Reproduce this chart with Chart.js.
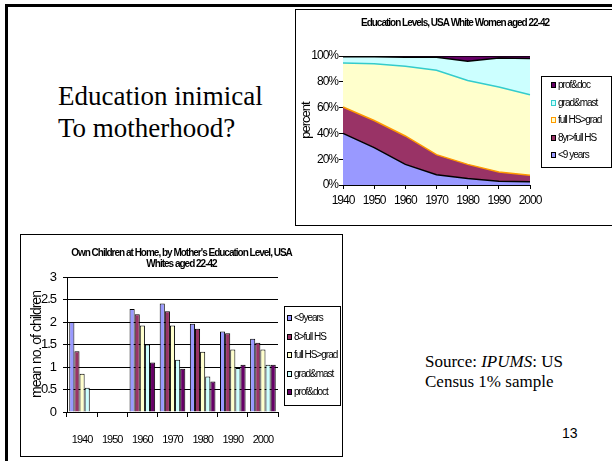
<!DOCTYPE html>
<html>
<head>
<meta charset="utf-8">
<script src="https://cdn.jsdelivr.net/npm/chart.js@4.4.1/dist/chart.umd.min.js"></script>
<style>
  html, body { margin: 0; padding: 0; background: #fff; }
  body { width: 612px; height: 461px; position: relative; overflow: hidden; }
  .slide { position: absolute; left: 5px; top: 4px; width: 700px; height: 600px;
           border-left: 3px solid #000; border-top: 3px solid #000; }
  .box { position: absolute; background: #fff; border: 1px solid #000; }
  #topBox { left: 295px; top: 9px; width: 318px; height: 215px; }
  #bottomBox { left: 20px; top: 234px; width: 321px; height: 221px; }
  canvas { display: block; }
  .heading { position: absolute; left: 58px; top: 80px; font-family: 'Liberation Serif', 'Times New Roman', serif;
             font-size: 27px; line-height: 32px; white-space: nowrap; }
  .source { position: absolute; left: 425px; top: 352px; font-family: 'Liberation Serif', 'Times New Roman', serif;
            font-size: 17px; line-height: 20px; white-space: nowrap; }
  .pageno { position: absolute; left: 562px; top: 425px; font-family: 'Liberation Sans', Arial, sans-serif; font-size: 14px; }
</style>
</head>
<body>
<div class="slide"></div>
<div class="heading">Education inimical<br>To motherhood?</div>
<div class="box" id="topBox"><canvas id="levelsChart" width="318" height="215"></canvas></div>
<div class="box" id="bottomBox"><canvas id="kidsChart" width="321" height="221"></canvas></div>
<div class="source">Source: <i>IPUMS</i>: US<br>Census 1% sample</div>
<div class="pageno">13</div>

<script>
// census years (shared by both charts)
const YEARS = ['1940', '1950', '1960', '1970', '1980', '1990', '2000'];

// top chart: share of white women 22-42 by education level (%)
const LEVEL_LABELS = ['<9 years', '8yr>full HS', 'full HS>grad', 'grad&mast', 'prof&doc'];
const SHARE_LT9 = [40, 29, 16, 8, 5, 3, 2.6];
const SHARE_8YR_HS = [20.5, 21, 22, 15.5, 11, 7, 5];
const SHARE_HS_GRAD = [34, 44, 54, 65.5, 65, 66, 62.4];
const SHARE_GRAD_MAST = [5, 5.5, 7, 10, 15, 22.5, 28];
const SHARE_PROF_DOC = [0.5, 0.5, 1, 1, 4, 1.5, 2];
const PERCENT_TICKS = [0, 20, 40, 60, 80, 100];

// bottom chart: mean number of own children at home
const KIDS_LABELS = ['<9years', '8>full HS', 'full HS>grad', 'grad&mast', 'prof&doct'];
const KIDS_LT9 = [2.0, null, 2.29, 2.41, 1.96, 1.79, 1.63];
const KIDS_8_HS = [1.35, null, 2.17, 2.24, 1.85, 1.75, 1.54];
const KIDS_HS_GRAD = [0.85, null, 1.92, 1.92, 1.34, 1.39, 1.39];
const KIDS_GRAD_MAST = [0.54, null, 1.5, 1.16, 0.79, 0.98, 1.05];
const KIDS_PROF_DOCT = [null, null, 1.1, 0.96, 0.68, 1.05, 1.05];

const FILLS = ['#9999FF', '#993366', '#FFFFCC', '#CCFFFF', '#660066'];
const SANS = "'Liberation Sans', Arial, sans-serif";

Chart.defaults.font.family = SANS;
Chart.defaults.color = '#000';

// the Excel charts were squeezed sideways, so tighten the lettering
const tightText = {
  id: 'tightText',
  beforeUpdate(chart) { chart.ctx.letterSpacing = '-1px'; },
  beforeDraw(chart) { chart.ctx.letterSpacing = '-1px'; }
};

// legend in a framed box, like the Excel one
const boxLegend = {
  id: 'boxLegend',
  afterDraw(chart, args, opts) {
    const ctx = chart.ctx;
    ctx.save();
    ctx.fillStyle = '#fff';
    ctx.strokeStyle = '#000';
    ctx.lineWidth = 1;
    ctx.fillRect(opts.left, opts.top, opts.width, opts.height);
    ctx.strokeRect(opts.left + 0.5, opts.top + 0.5, opts.width, opts.height);

    let items = chart.data.datasets.map((ds, i) => ({
      label: ds.label,
      fill: ds.backgroundColor,
      edge: opts.edges ? opts.edges[i] : '#000'
    }));
    if (opts.reverse) items.reverse();

    ctx.font = opts.fontSize + 'px ' + SANS;
    ctx.textBaseline = 'middle';
    items.forEach((it, k) => {
      const cy = Math.round(opts.firstY + k * opts.rowGap);
      ctx.fillStyle = it.fill;
      ctx.fillRect(opts.swatchX, cy - 3, 5, 6);
      ctx.strokeStyle = it.edge;
      ctx.strokeRect(opts.swatchX + 0.5, cy - 2.5, 4, 5);
      ctx.fillStyle = '#000';
      ctx.fillText(it.label, opts.textX, cy);
    });
    ctx.restore();
  }
};

// empty right-hand axis that just reserves room for the legend box
function spacerAxis(width) {
  return {
    type: 'linear',
    position: 'right',
    grid: { display: false },
    border: { display: false },
    ticks: { display: false },
    afterFit: (s) => { s.width = width; }
  };
}

// --- top chart: stacked area of education levels ---
const shareSeries = [SHARE_LT9, SHARE_8YR_HS, SHARE_HS_GRAD, SHARE_GRAD_MAST, SHARE_PROF_DOC];
const topLines = ['#000', '#FF9900', '#33CCCC', '#000', '#000'];

new Chart(document.getElementById('levelsChart'), {
  type: 'line',
  data: {
    labels: YEARS,
    datasets: shareSeries.map((vals, i) => ({
      label: LEVEL_LABELS[i],
      data: vals,
      backgroundColor: FILLS[i],
      borderColor: topLines[i],
      borderWidth: 1.5,
      fill: i === 0 ? 'origin' : '-1',
      pointRadius: 0,
      tension: 0
    }))
  },
  options: {
    responsive: false,
    animation: false,
    devicePixelRatio: 1,
    layout: { padding: 0 },
    plugins: {
      legend: { display: false },
      tooltip: { enabled: false },
      title: {
        display: true,
        text: 'Education Levels, USA White Women aged 22-42',
        font: { size: 10, weight: 'bold' },
        padding: { top: 7, bottom: 27 }
      },
      boxLegend: {
        left: 245, top: 66, width: 70, height: 91,
        swatchX: 255, textX: 262, firstY: 75, rowGap: 17.5,
        fontSize: 10, reverse: true,
        edges: ['#000', '#000', '#FF9900', '#33CCCC', '#000']
      }
    },
    scales: {
      x: {
        offset: false,
        grid: { display: true, drawOnChartArea: false, drawTicks: true, tickLength: 4, color: '#000', offset: false },
        border: { display: true, color: '#000' },
        ticks: { font: { size: 12 }, padding: 4, maxRotation: 0 },
        afterFit: (s) => { s.height = 40; }
      },
      y: {
        stacked: true,
        min: 0,
        max: 100,
        afterBuildTicks: (s) => { s.ticks = PERCENT_TICKS.map(v => ({ value: v })); },
        grid: { display: true, drawOnChartArea: false, drawTicks: true, tickLength: 4, color: '#000' },
        border: { display: true, color: '#000' },
        ticks: { font: { size: 12 }, padding: 1, callback: (v) => v + '%' },
        title: { display: true, text: 'percent', font: { size: 13 }, padding: { top: 3, bottom: 0 } },
        afterFit: (s) => { s.width = 47; }
      },
      spacer: spacerAxis(84)
    }
  },
  plugins: [tightText, boxLegend]
});

// --- bottom chart: clustered bars of children at home ---
const kidsSeries = [KIDS_LT9, KIDS_8_HS, KIDS_HS_GRAD, KIDS_GRAD_MAST, KIDS_PROF_DOCT];

new Chart(document.getElementById('kidsChart'), {
  type: 'bar',
  data: {
    labels: YEARS,
    datasets: kidsSeries.map((vals, i) => ({
      label: KIDS_LABELS[i],
      data: vals,
      backgroundColor: FILLS[i],
      borderColor: '#000',
      borderWidth: 1,
      barPercentage: 1.0,
      categoryPercentage: 0.85
    }))
  },
  options: {
    responsive: false,
    animation: false,
    devicePixelRatio: 1,
    layout: { padding: 0 },
    plugins: {
      legend: { display: false },
      tooltip: { enabled: false },
      title: {
        display: true,
        text: ["Own Children at Home, by Mother's Education Level, USA", 'Whites aged 22-42'],
        font: { size: 10, weight: 'bold', lineHeight: 1.1 },
        padding: { top: 13, bottom: 7 }
      },
      boxLegend: {
        left: 263, top: 71, width: 56, height: 99,
        swatchX: 266, textX: 273, firstY: 83, rowGap: 18.5,
        fontSize: 10, reverse: false
      }
    },
    scales: {
      x: {
        grid: { display: true, drawOnChartArea: false, drawTicks: true, tickLength: 5, color: '#000', offset: true },
        border: { display: true, color: '#000' },
        ticks: { font: { size: 11 }, padding: 16, maxRotation: 0 },
        afterFit: (s) => { s.height = 44; }
      },
      y: {
        min: 0,
        max: 3,
        ticks: { stepSize: 0.5, font: { size: 13 }, padding: 7, callback: (v) => String(v) },
        grid: { display: true, drawTicks: true, tickLength: 4, color: '#000' },
        border: { display: true, color: '#000' },
        title: { display: true, text: 'mean no. of children', font: { size: 14 }, padding: { top: 8, bottom: 0 } },
        afterFit: (s) => { s.width = 46; }
      },
      spacer: spacerAxis(64)
    }
  },
  plugins: [tightText, boxLegend]
});
</script>
</body>
</html>
